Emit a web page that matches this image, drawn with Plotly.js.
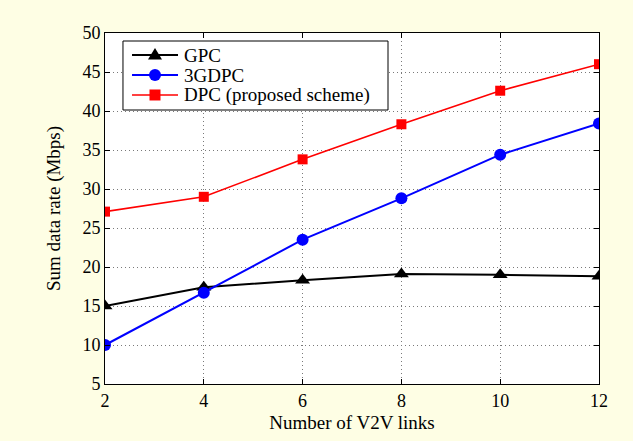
<!DOCTYPE html>
<html>
<head>
<meta charset="utf-8">
<script src="https://cdn.plot.ly/plotly-3.0.1.min.js"></script>
<style>html,body{margin:0;padding:0;background:#FEFEE4;}</style>
</head>
<body>
<div id="chart" style="width:633px;height:441px;"></div>
<script>
const links = [2, 4, 6, 8, 10, 12];
const gpc = [15.0, 17.4, 18.3, 19.1, 19.0, 18.8];
const gdpc3 = [10.0, 16.7, 23.5, 28.8, 34.4, 38.4];
const dpc = [27.1, 29.0, 33.8, 38.3, 42.6, 46.0];
const names = ["GPC", "3GDPC", "DPC (proposed scheme)"];
const colors = ["#000000", "#0000FF", "#FF0000"];
const xTicks = [2, 4, 6, 8, 10, 12];
const yTicks = [5, 10, 15, 20, 25, 30, 35, 40, 45, 50];

const FONT = "Liberation Serif, Times New Roman, serif";

const traces = [
  {x: links, y: gpc, name: names[0], mode: "lines+markers",
   line: {color: colors[0], width: 2}, marker: {symbol: "triangle-up", size: 13, color: colors[0]}},
  {x: links, y: gdpc3, name: names[1], mode: "lines+markers",
   line: {color: colors[1], width: 2}, marker: {symbol: "circle", size: 12, color: colors[1]}},
  {x: links, y: dpc, name: names[2], mode: "lines+markers",
   line: {color: colors[2], width: 1.6}, marker: {symbol: "square", size: 10, color: colors[2]}}
];

// Legend box (MATLAB style), drawn in paper coordinates
const legBox = {x0: 0.0364, x1: 0.5729, y0: 0.7806, y1: 0.9772};
const legRows = [0.9373, 0.8803, 0.8234];
const legLine = [0.0547, 0.1478];
const legMarkX = 0.1012;
const legTextX = 0.1559;
const lineWidths = [2, 2, 1.6];

const shapes = [
  {type: "rect", xref: "paper", yref: "paper", x0: legBox.x0, x1: legBox.x1, y0: legBox.y0, y1: legBox.y1,
   fillcolor: "#FFFFFF", line: {color: "#000000", width: 1}, layer: "above"}
];
const annotations = [];
legRows.forEach((ry, i) => {
  shapes.push({type: "line", xref: "paper", yref: "paper", x0: legLine[0], x1: legLine[1], y0: ry, y1: ry,
    line: {color: colors[i], width: lineWidths[i]}, layer: "above"});
  const base = {xref: "paper", yref: "paper", xsizemode: "pixel", ysizemode: "pixel",
    xanchor: legMarkX, yanchor: ry, fillcolor: colors[i], line: {color: colors[i], width: 0}, layer: "above"};
  if (i === 0) shapes.push(Object.assign({type: "path", path: "M-7,-4.5L7,-4.5L0,7Z"}, base));
  if (i === 1) shapes.push(Object.assign({type: "circle", x0: -6, x1: 6, y0: -6, y1: 6}, base));
  if (i === 2) shapes.push(Object.assign({type: "rect", x0: -5.5, x1: 5.5, y0: -5.5, y1: 5.5}, base));
  annotations.push({xref: "paper", yref: "paper", x: legTextX, y: ry, xanchor: "left", yanchor: "middle",
    text: names[i], showarrow: false, font: {family: FONT, size: 19, color: "#000000"}});
});

const axisCommon = {
  showline: true, linecolor: "#000000", linewidth: 1, mirror: "ticks",
  ticks: "inside", ticklen: 5, tickcolor: "#000000", tickwidth: 1,
  showgrid: true, gridcolor: "#7a7a7a", griddash: "1px,3px", gridwidth: 1,
  zeroline: false,
  tickfont: {family: FONT, size: 18, color: "#000000"}
};

const layout = {
  width: 633, height: 441,
  paper_bgcolor: "#FEFEE4", plot_bgcolor: "#FFFFFF",
  margin: {l: 105, r: 34, t: 33, b: 57},
  font: {family: FONT, size: 18, color: "#000000"},
  showlegend: false,
  shapes: shapes,
  annotations: annotations,
  xaxis: Object.assign({}, axisCommon, {
    range: [2, 12], tickvals: xTicks, ticktext: xTicks.map(String),
    title: {text: "Number of V2V links", standoff: 6,
      font: {family: FONT, size: 19, color: "#000000"}}
  }),
  yaxis: Object.assign({}, axisCommon, {
    range: [5, 50], tickvals: yTicks, ticktext: yTicks.map(String),
    title: {text: "Sum data rate (Mbps)", standoff: 16,
      font: {family: FONT, size: 19, color: "#000000"}}
  })
};

Plotly.newPlot("chart", traces, layout, {displayModeBar: false, staticPlot: true});
</script>
</body>
</html>
